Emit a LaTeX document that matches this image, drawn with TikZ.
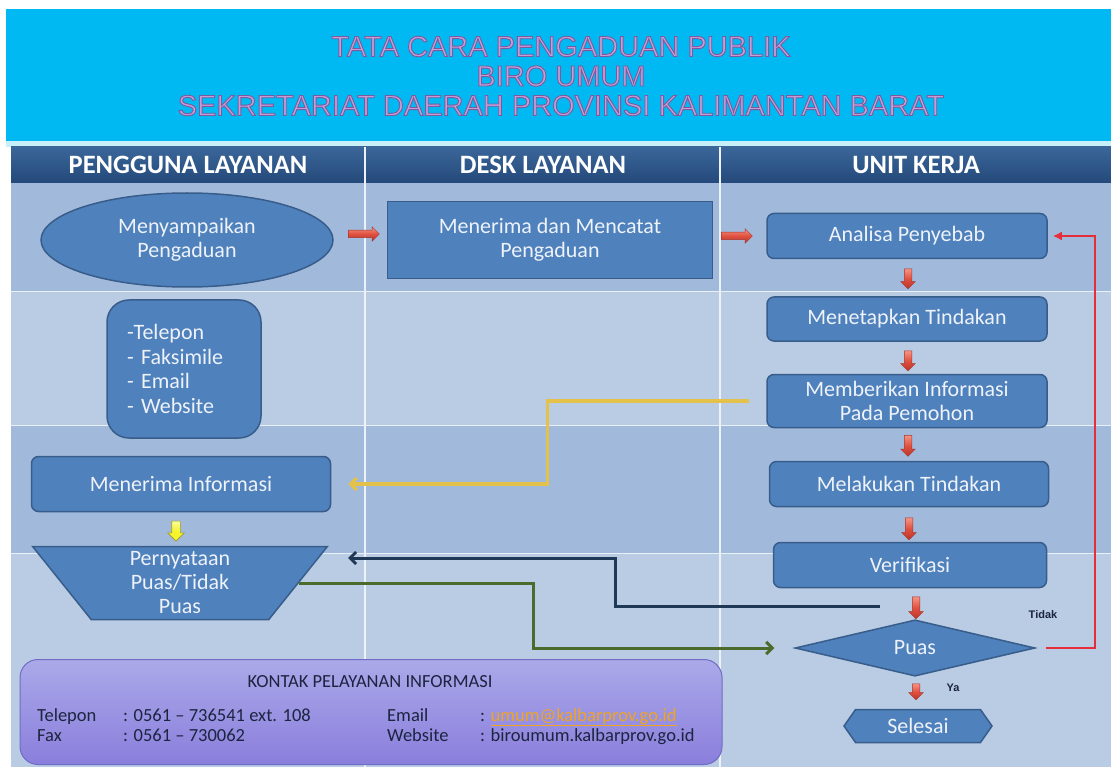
\documentclass[tikz,border=0pt]{standalone}
\usepackage{fontspec}
\setmainfont{Carlito}
\newfontfamily\judulfont{Liberation Sans}
\usepackage{xcolor}
\usepackage{tikz}
\usetikzlibrary{arrows.meta, positioning, shapes.geometric, shapes.arrows, shapes.symbols, calc}

\definecolor{bannerblue}{HTML}{00B9F2}
\definecolor{bannerline}{HTML}{C8F0FB}
\definecolor{headtop}{HTML}{3B6699}
\definecolor{headbot}{HTML}{24497A}
\definecolor{bandmid}{HTML}{A1BADC}
\definecolor{bandlight}{HTML}{B9CCE4}
\definecolor{boxfill}{HTML}{4F81BD}
\definecolor{boxline}{HTML}{385D8A}
\definecolor{boxtext}{HTML}{EEF2F9}
\definecolor{judulpink}{HTML}{C79DD6}
\definecolor{arrredtop}{HTML}{F49484}
\definecolor{arrred}{HTML}{E0503F}
\definecolor{arrredbot}{HTML}{B8342A}
\definecolor{arrredline}{HTML}{A8342C}
\definecolor{arryellow}{HTML}{F4F42E}
\definecolor{arryellowtop}{HTML}{FBFB9A}
\definecolor{arryellowline}{HTML}{A89A1C}
\definecolor{lineyellow}{HTML}{E3C14A}
\definecolor{linedark}{HTML}{1F3856}
\definecolor{linegreen}{HTML}{4B6B2D}
\definecolor{linered}{HTML}{E62E3A}
\definecolor{kontaktop}{HTML}{ABA9E9}
\definecolor{kontakbot}{HTML}{8A7EDC}
\definecolor{kontakline}{HTML}{6E6CC4}
\definecolor{kontaktext}{HTML}{1C2440}
\definecolor{emailorange}{HTML}{F0A424}

% outlined title text
\newcommand{\garistepi}{\special{pdf:literal direct 0.47 0.36 0.62 RG 0.9 w 2 Tr}}
\newcommand{\garistepiend}{\special{pdf:literal direct 0 Tr}}

\begin{document}
\begin{tikzpicture}[x=1pt, y=-1pt,
    proses/.style={rectangle, rounded corners=7pt, fill=boxfill, draw=boxline,
                   line width=1.5pt, text=boxtext, align=center, inner sep=0pt,
                   font=\fontsize{22}{24}\selectfont},
    kolom/.style={text=white, font=\fontsize{26.5}{28}\selectfont\bfseries},
    panahmerah/.style={single arrow, single arrow head extend=3.5pt,
                       inner sep=0pt, inner ysep=3.5pt, draw=arrredline,
                       line width=0.5pt, top color=arrredtop,
                       bottom color=arrredbot, middle color=arrred},
    panahkuning/.style={single arrow, single arrow head extend=4pt,
                        inner sep=0pt, inner ysep=4pt, draw=arryellowline,
                        line width=0.6pt, top color=arryellowtop,
                        bottom color=arryellow, middle color=arryellow},
    garis/.style={line width=3pt},
    kteks/.style={text=kontaktext, font=\fontsize{18.5}{20}\selectfont},
    keterangan/.style={text=kontaktext, font=\judulfont\bfseries\fontsize{11}{13}\selectfont}
  ]
  \useasboundingbox (0,0) rectangle (1111,767);
  % Background and title
  \fill[white] (0,0) rectangle (1111,767);
  \fill[bannerblue] (6,9) rectangle (1111,141);
  \fill[bannerline] (6,141) rectangle (1111,147);
  \node[text=judulpink, align=center, font=\judulfont\fontsize{29}{29.5}\selectfont]
    (judul) at (561,76)
    {\garistepi TATA CARA PENGADUAN PUBLIK\\BIRO UMUM\\SEKRETARIAT DAERAH PROVINSI KALIMANTAN BARAT\garistepiend};
  % Lanes
  \fill[bandmid]   (11,183) rectangle (1111,292);
  \fill[bandlight] (11,292) rectangle (1111,425);
  \fill[bandmid]   (11,425) rectangle (1111,553);
  \fill[bandlight] (11,553) rectangle (1111,767);
  \shade[top color=headtop, bottom color=headbot] (11,147) rectangle (1111,183);
  \draw[white!70!bandlight, line width=1pt] (11,292) -- (1111,292);
  \draw[white!70!bandlight, line width=1pt] (11,425) -- (1111,425);
  \draw[white!70!bandlight, line width=1pt] (11,553) -- (1111,553);
  \draw[white!75!bandlight, line width=1.5pt] (365,147) -- (365,767);
  \draw[white!75!bandlight, line width=1.5pt] (720,147) -- (720,767);
  \node[kolom] (kpengguna) at (188,165) {PENGGUNA LAYANAN};
  \node[kolom] (kdesk)     at (543,165) {DESK LAYANAN};
  \node[kolom] (kunit)     at (916,165) {UNIT KERJA};
  % Pengguna layanan
  \node[proses, ellipse, minimum width=292pt, minimum height=94pt]
    (lapor) at (187,240) {Menyampaikan\\Pengaduan};
  \node[proses, rounded corners=22pt, minimum width=154pt, minimum height=138pt,
        inner xsep=20pt, text width=114pt, align=left, font=\fontsize{22}{24.5}\selectfont]
    (media) at (184,369) {-Telepon\\- Faksimile\\- Email\\- Website};
  \node[proses, minimum width=299pt, minimum height=55pt]
    (terima) at (181,484) {Menerima Informasi};
  \node[panahkuning, rotate=-90, minimum height=20pt] (akuning) at (176,529) {};
  \node[proses, trapezium, trapezium angle=62, shape border rotate=180,
        trapezium stretches=true, rounded corners=0pt,
        minimum width=295pt, minimum height=73pt]
    (stmt) at (180,583) {Pernyataan\\Puas/Tidak\\Puas};
  % Desk layanan
  \node[panahmerah, minimum height=31pt] (ar1) at (362,234) {};
  \node[proses, rounded corners=0pt, minimum width=325pt, minimum height=77pt]
    (catat) at (550,240) {Menerima dan Mencatat\\Pengaduan};
  \node[panahmerah, minimum height=31pt] (ar2) at (735,236) {};
  % Unit kerja
  \node[proses, minimum width=280pt, minimum height=45pt]
    (analisa) at (907,236) {Analisa Penyebab};
  \node[panahmerah, rotate=-90, minimum height=20pt] (ad1) at (908,277) {};
  \node[proses, minimum width=280pt, minimum height=44pt]
    (tetap) at (907,319) {Menetapkan Tindakan};
  \node[panahmerah, rotate=-90, minimum height=20pt] (ad2) at (908,359) {};
  \node[proses, minimum width=280pt, minimum height=53pt]
    (beri) at (907,401) {Memberikan Informasi\\Pada Pemohon};
  \node[panahmerah, rotate=-90, minimum height=21pt] (ad3) at (908,444) {};
  \node[proses, minimum width=279pt, minimum height=45pt]
    (laku) at (909,484) {Melakukan Tindakan};
  \node[panahmerah, rotate=-90, minimum height=22pt] (ad4) at (909,527) {};
  \node[proses, minimum width=273pt, minimum height=45pt]
    (verif) at (910,565) {Verifikasi};
  \node[panahmerah, rotate=-90, minimum height=22pt] (ad5) at (916,606) {};
  \node[proses, diamond, rounded corners=0pt, minimum width=240pt, minimum height=48pt]
    (puas) at (915,648) {Puas};
  \node[panahmerah, rotate=-90, minimum height=16pt] (ad6) at (916,690) {};
  \node[keterangan] (ya) at (953,688) {Ya};
  \node[keterangan] (tidak) at (1043,615) {Tidak};
  \node[proses, signal, signal to=west and east, signal pointer angle=110,
        rounded corners=0pt, minimum width=148pt, minimum height=33pt]
    (selesai) at (918,726) {Selesai};
  % Connectors
  \coordinate (dkawal) at (880,606);
  \coordinate (dkakhir) at (348,558);
  \draw[garis, lineyellow, line width=3.5pt, -{Straight Barb[length=6pt,width=12pt]}]
    ([xshift=-17pt]beri.west) -- ++(-202,0) |- ([xshift=17pt]terima.east);
  \draw[garis, linedark, -{Straight Barb[length=6pt,width=12pt]}]
    (dkawal) -- ++(-265,0) |- (dkakhir);
  \draw[garis, linegreen, -{Straight Barb[length=6pt,width=12pt]}]
    (stmt.east) -- ++(234,0) |- ([xshift=-20pt]puas.west);
  \draw[garis, linered, line width=2.5pt, -{Latex[length=9pt,width=9pt]}]
    ([xshift=10pt]puas.east) -- ++(49,0) |- ([xshift=5pt]analisa.east);
  % Kontak
  \node[rectangle, rounded corners=18pt, draw=kontakline, line width=1pt,
        top color=kontaktop, bottom color=kontakbot,
        minimum width=702pt, minimum height=105pt]
    (kontak) at (371,712) {};
  \node[kteks] (kjudul) at (370,682) {KONTAK PELAYANAN INFORMASI};
  \node[kteks, anchor=west, inner sep=0pt] (ktelepon) at (37,727)
    {\begin{tabular}{@{}p{86pt}@{}l@{}}Telepon & : 0561 – 736541 ext. 108\\
     Fax & : 0561 – 730062\end{tabular}};
  \node[kteks, anchor=west, inner sep=0pt] (kemail) at (387,727)
    {\begin{tabular}{@{}p{93pt}@{}l@{}}Email & : \textcolor{emailorange}{\underline{umum@kalbarprov.go.id}}\\
     Website & : biroumum.kalbarprov.go.id\end{tabular}};
\end{tikzpicture}
\end{document}
